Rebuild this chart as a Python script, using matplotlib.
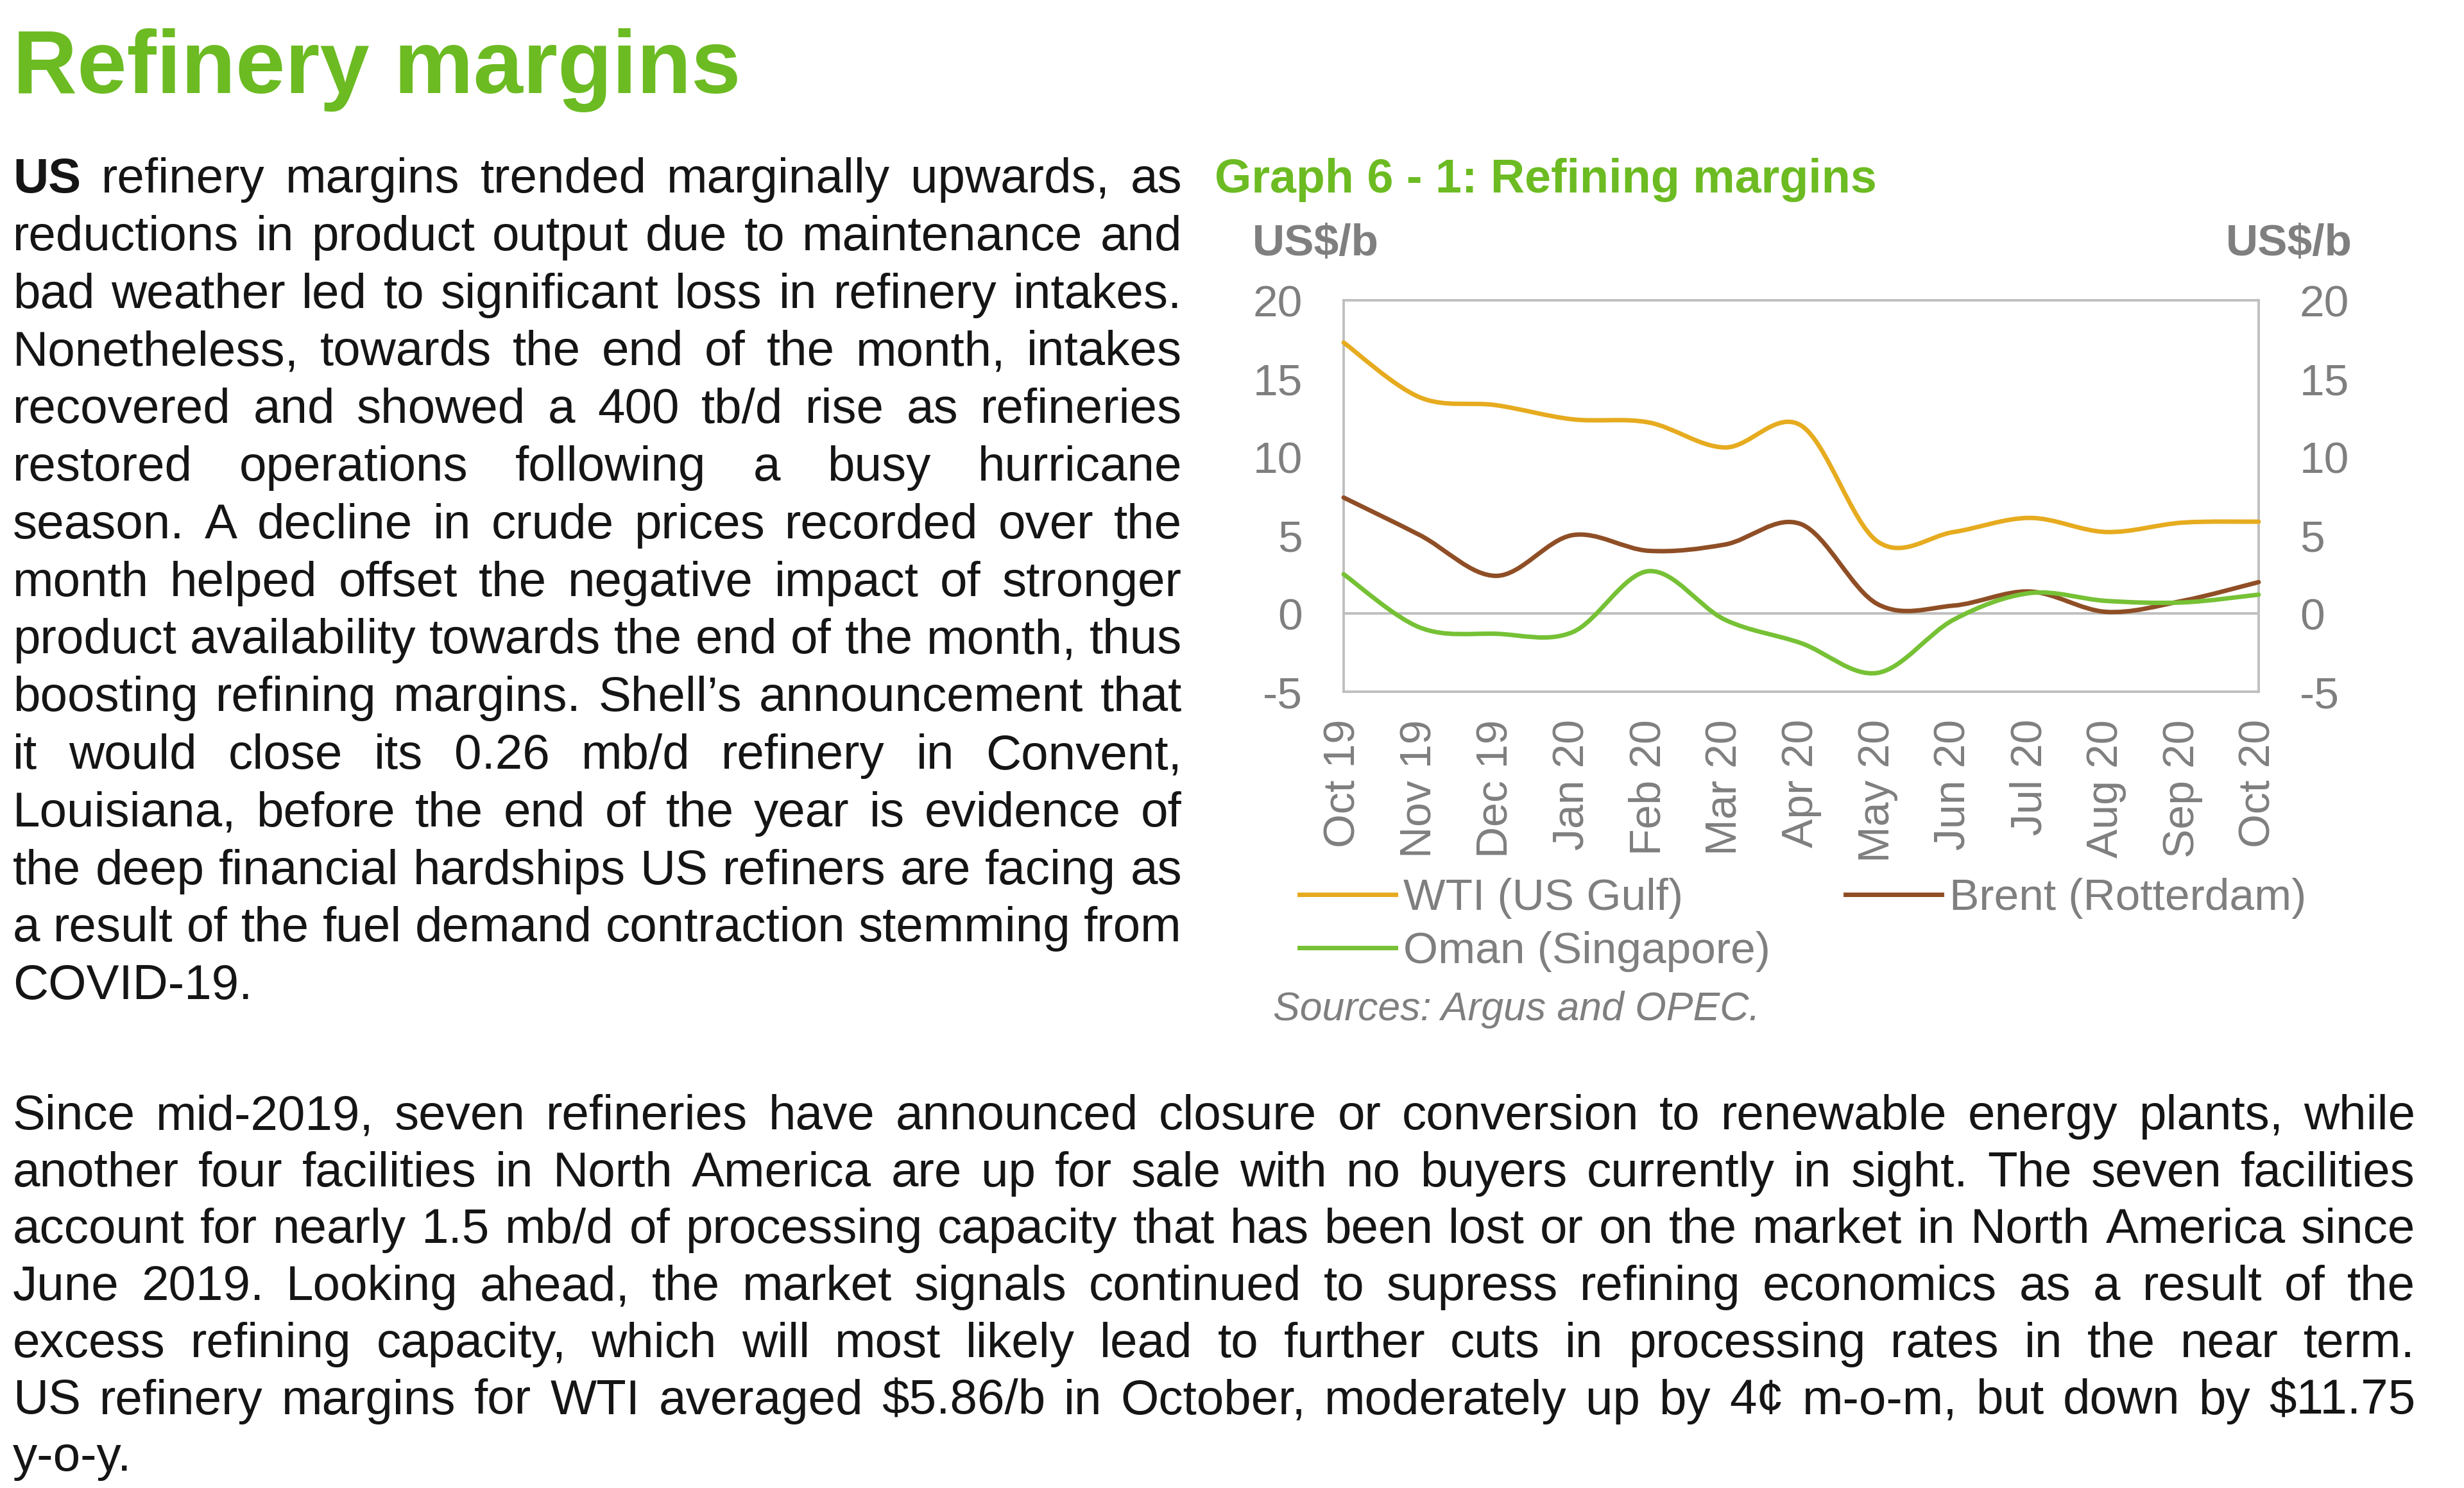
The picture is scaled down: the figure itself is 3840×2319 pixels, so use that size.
import numpy as np
import matplotlib.pyplot as plt
from matplotlib.path import Path
from matplotlib.patches import PathPatch
from matplotlib.lines import Line2D

plt.rcParams['font.family'] = ['Liberation Sans', 'DejaVu Sans']
plt.rcParams['axes.unicode_minus'] = False

# ---- data ----
months = ['Oct 19', 'Nov 19', 'Dec 19', 'Jan 20', 'Feb 20', 'Mar 20', 'Apr 20',
          'May 20', 'Jun 20', 'Jul 20', 'Aug 20', 'Sep 20', 'Oct 20']
wti = [17.3, 13.8, 13.3, 12.4, 12.2, 10.6, 12.0, 4.6, 5.2, 6.1, 5.2, 5.8, 5.86]
brent = [7.4, 5.0, 2.4, 5.0, 4.0, 4.4, 5.7, 0.6, 0.5, 1.4, 0.1, 0.8, 2.0]
oman = [2.5, -0.9, -1.3, -1.2, 2.7, -0.4, -1.9, -3.8, -0.4, 1.3, 0.8, 0.7, 1.2]
series_names = ['WTI (US Gulf)', 'Brent (Rotterdam)', 'Oman (Singapore)']
yticks = [-5, 0, 5, 10, 15, 20]

left_par = [
    "US refinery margins trended marginally upwards, as",
    "reductions in product output due to maintenance and",
    "bad weather led to significant loss in refinery intakes.",
    "Nonetheless, towards the end of the month, intakes",
    "recovered and showed a 400 tb/d rise as refineries",
    "restored operations following a busy hurricane",
    "season. A decline in crude prices recorded over the",
    "month helped offset the negative impact of stronger",
    "product availability towards the end of the month, thus",
    "boosting refining margins. Shell\u2019s announcement that",
    "it would close its 0.26 mb/d refinery in Convent,",
    "Louisiana, before the end of the year is evidence of",
    "the deep financial hardships US refiners are facing as",
    "a result of the fuel demand contraction stemming from",
    "COVID-19.",
]
bottom_par = [
    "Since mid-2019, seven refineries have announced closure or conversion to renewable energy plants, while",
    "another four facilities in North America are up for sale with no buyers currently in sight. The seven facilities",
    "account for nearly 1.5 mb/d of processing capacity that has been lost or on the market in North America since",
    "June 2019. Looking ahead, the market signals continued to supress refining economics as a result of the",
    "excess refining capacity, which will most likely lead to further cuts in processing rates in the near term.",
    "US refinery margins for WTI averaged $5.86/b in October, moderately up by 4\u00a2 m-o-m, but down by $11.75",
    "y-o-y.",
]

W, H = 3840, 2319
GREEN = '#6cbb22'
GRAY = '#7f7f7f'
TXT = '#151515'
colors = ['#e6ab1f', '#8f4e25', '#76c135']

fig = plt.figure(figsize=(W / 100, H / 100), dpi=100)


def fx(x):
    return x / W


def fy(y):
    return 1 - y / H


renderer = fig.canvas.get_renderer()


def text_line(line, x0, x1, base, justify, size=55, bold_first=False):
    words = line.split()
    if not justify:
        fig.text(fx(x0), fy(base), line, fontsize=size, color=TXT,
                 va='baseline', ha='left', parse_math=False)
        return
    ts = []
    for i, w in enumerate(words):
        wt = 'bold' if (bold_first and i == 0) else 'normal'
        t = fig.text(0, fy(base), w, fontsize=size, color=TXT, fontweight=wt,
                     va='baseline', ha='left', parse_math=False)
        ts.append(t)
    widths = [t.get_window_extent(renderer=renderer).width for t in ts]
    gap = (x1 - x0 - sum(widths)) / (len(ts) - 1)
    x = x0
    for t, w in zip(ts, widths):
        t.set_x(fx(x))
        x += w + gap


# title
fig.text(fx(20), fy(145), 'Refinery margins', fontsize=100, fontweight='bold',
         color=GREEN, va='baseline')

# left paragraph
for i, line in enumerate(left_par):
    text_line(line, 20, 1842, 300 + i * 89.8, i < len(left_par) - 1,
              bold_first=(i == 0))

# bottom paragraph
for i, line in enumerate(bottom_par):
    text_line(line, 20, 3764, 1760 + i * 88.7, i < len(bottom_par) - 1)

# chart title
fig.text(fx(1893), fy(300), 'Graph 6 - 1: Refining margins', fontsize=53,
         fontweight='bold', color=GREEN, va='baseline')
fig.text(fx(1952), fy(398), 'US$/b', fontsize=50, fontweight='bold',
         color=GRAY, va='baseline', ha='left', parse_math=False)
fig.text(fx(3666), fy(398), 'US$/b', fontsize=50, fontweight='bold',
         color=GRAY, va='baseline', ha='right', parse_math=False)

# chart axes
x0, x1, y0, y1 = 2094, 3520, 468, 1078
ax = fig.add_axes([fx(x0), fy(y1), (x1 - x0) / W, (y1 - y0) / H])
ax.set_xlim(0, len(months) - 1)
ax.set_ylim(-5, 20)
ax.set_yticks(yticks)
ax.set_xticks(range(len(months)), months, rotation=90)
ax.tick_params(axis='y', length=0, labelsize=50, labelcolor=GRAY, pad=46,
               labelleft=True, labelright=True)
ax.tick_params(axis='x', length=0, labelsize=49, labelcolor=GRAY, pad=31)
for s in ax.spines.values():
    s.set_color('#bfbfbf')
    s.set_linewidth(2.8)
ax.axhline(0, color='#bfbfbf', lw=2.8, zorder=1)


def smooth_path(xs, ys):
    pts = np.column_stack([xs, ys]).astype(float)
    n = len(pts)
    verts = [pts[0]]
    codes = [Path.MOVETO]
    for i in range(n - 1):
        p0 = pts[max(i - 1, 0)]
        p1 = pts[i]
        p2 = pts[i + 1]
        p3 = pts[min(i + 2, n - 1)]
        c1 = p1 + (p2 - p0) / 6
        c2 = p2 - (p3 - p1) / 6
        verts += [c1, c2, p2]
        codes += [Path.CURVE4] * 3
    return Path(verts, codes)


xs = np.arange(len(months))
for vals, c in zip([wti, brent, oman], colors):
    ax.add_patch(PathPatch(smooth_path(xs, vals), fill=False, edgecolor=c,
                           lw=5, capstyle='round', joinstyle='round',
                           zorder=3, clip_on=False))

# legend (row-major order: WTI, Brent / Oman)
handles = [Line2D([], [], color=c, lw=5) for c in colors]
order = [0, 2, 1]
fig.legend([handles[i] for i in order], [series_names[i] for i in order],
           loc='upper left', bbox_to_anchor=(fx(2025), fy(1368)), ncol=2,
           frameon=False, fontsize=50, labelcolor=GRAY, handlelength=2.16,
           handletextpad=0.17, columnspacing=1.69, labelspacing=0.28,
           borderpad=0, borderaxespad=0)

fig.text(fx(1984), fy(1590), 'Sources: Argus and OPEC.', fontsize=45,
         style='italic', color=GRAY, va='baseline')

fig.savefig('out.png', dpi=100, facecolor='white')
